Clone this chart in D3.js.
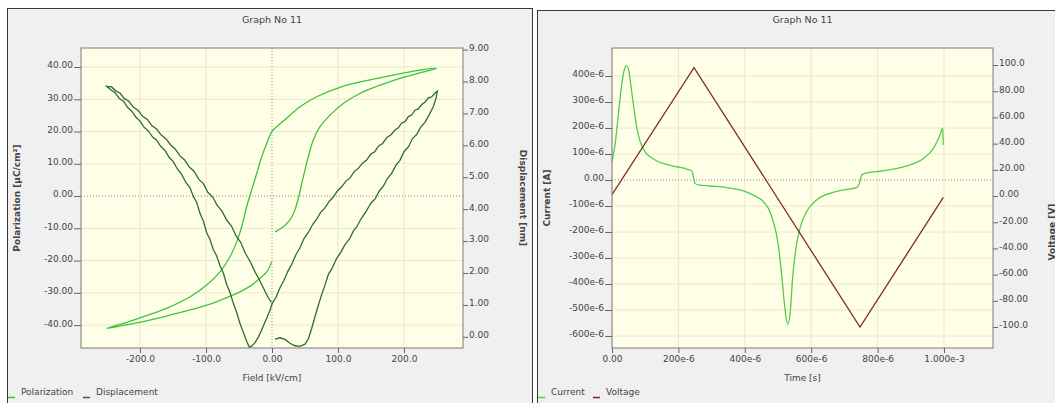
<!DOCTYPE html>
<html>
<head>
<meta charset="utf-8">
<script src="https://cdn.jsdelivr.net/npm/d3@7"></script>
<style>
  body { margin: 0; background: #fff; }
  svg text { font-family: "DejaVu Sans", sans-serif; fill: #444; }
</style>
</head>
<body>
<div id="chart"></div>
<script>
// ---- left graph: hysteresis loop + butterfly ----
let fieldTicks = [-200, -100, 0, 100, 200];
let fieldLabels = ["-200.0", "-100.0", "0.00", "100.0", "200.0"];
let polTicks = [40, 30, 20, 10, 0, -10, -20, -30, -40];
let polLabels = ["40.00", "30.00", "20.00", "10.00", "0.00", "-10.00", "-20.00", "-30.00", "-40.00"];
let dispTicks = [9, 8, 7, 6, 5, 4, 3, 2, 1, 0];
let dispLabels = ["9.00", "8.00", "7.00", "6.00", "5.00", "4.00", "3.00", "2.00", "1.00", "0.00"];

// [field kV/cm, polarization uC/cm2]
let polarization = [
  [4.5,-11.1],[17.2,-9.5],[27.3,-7.4],[34.8,-4.3],[39.9,-0.7],[45,3.9],[50,8.1],[55,12.2],[62.6,17.4],
  [72.7,21.5],[87.9,25.1],[108,28.7],[133,31.8],[164,34.4],[194,36.5],[224,38.2],[249.5,39.6],
  [219,38.9],[184,37.5],[143,35.8],[103,33.7],[67.7,30.8],[42.4,27.7],[22.2,24.1],[7.1,21.5],[-0.5,19.9],
  [-8,16.3],[-15.6,12.2],[-23.2,7.0],[-30.8,1.9],[-38.4,-3.3],[-45.9,-9.5],[-53.5,-14.2],[-63.6,-18.8],
  [-78.8,-23.5],[-99,-27.6],[-124,-31.2],[-160,-34.8],[-195,-37.4],[-225,-39.5],[-250,-41],
  [-225,-40.1],[-195,-38.9],[-160,-37.2],[-124,-35.3],[-94,-33.5],[-68.7,-31.5],[-48.5,-29.7],
  [-30.8,-27.6],[-18.2,-25.5],[-8,-23.5],[-0.5,-20.4]
];

// [field kV/cm, displacement nm]
let displacement = [
  [4.5,-0.07],[12.1,-0.03],[19.7,-0.08],[27.3,-0.20],[34.9,-0.28],[42.4,-0.30],[50.0,-0.23],[55.0,-0.07],
  [60.1,0.26],[65.1,0.63],[70.2,0.99],[75.3,1.33],[80.3,1.62],[85.3,1.95],[91.4,2.16],[98.0,2.46],
  [104.0,2.64],[110.6,2.89],[117.2,3.06],[123.2,3.31],[129.3,3.48],[135.9,3.73],[142.4,3.92],[149.5,4.18],
  [156.1,4.32],[162.6,4.57],[168.7,4.72],[174.7,4.96],[181.3,5.12],[187.9,5.38],[193.9,5.53],[200.0,5.80],
  [206.6,5.95],[213.1,6.22],[219.2,6.34],[225.3,6.57],[231.8,6.72],[238.4,6.97],[244.4,7.21],[248.5,7.47],
  [250.5,7.70],
  [247.0,7.64],[241.9,7.52],[236.9,7.49],[231.8,7.35],[226.8,7.28],[221.7,7.14],[216.7,7.10],[211.6,6.95],
  [206.6,6.90],[201.5,6.74],[196.5,6.70],[191.4,6.55],[186.4,6.48],[179.8,6.32],[173.7,6.24],[167.7,6.06],
  [161.6,5.98],[155.6,5.80],[149.5,5.72],[143.4,5.54],[137.4,5.45],[130.8,5.28],[124.2,5.17],[118.2,4.98],
  [112.1,4.88],[105.6,4.70],[99.0,4.57],[92.9,4.38],[86.9,4.25],[80.3,4.04],[73.7,3.90],[67.7,3.69],
  [61.6,3.52],[55.0,3.27],[48.5,3.08],[42.4,2.79],[36.4,2.58],[30.3,2.29],[24.2,2.06],[18.2,1.77],
  [12.1,1.54],[6.1,1.24],[0.5,1.05],
  [-3.0,0.84],[-7.1,0.63],[-11.6,0.42],[-16.2,0.19],[-20.7,-0.01],[-25.8,-0.18],[-30.8,-0.29],[-34.4,-0.32],
  [-38.4,-0.14],[-43.4,0.14],[-48.5,0.42],[-53.5,0.76],[-58.6,1.05],[-63.6,1.39],[-68.7,1.64],[-73.7,2.00],
  [-78.8,2.23],[-83.9,2.54],[-88.9,2.73],[-93.9,3.05],[-99.0,3.26],[-104.0,3.63],[-109.1,3.87],[-114.1,4.21],
  [-119.2,4.40],[-124.2,4.67],[-130.3,4.83],[-136.9,5.09],[-143.4,5.26],[-149.5,5.49],[-155.5,5.61],
  [-162.1,5.84],[-168.7,5.97],[-174.8,6.16],[-180.8,6.26],[-187.4,6.45],[-194.0,6.57],[-200.0,6.76],
  [-206.1,6.88],[-212.6,7.07],[-219.2,7.20],[-225.3,7.39],[-231.3,7.47],[-237.9,7.65],[-244.4,7.74],
  [-250.5,7.85],
  [-242.9,7.83],[-236.4,7.70],[-230.3,7.64],[-224.2,7.47],[-217.2,7.39],[-210.1,7.20],[-203.0,7.10],
  [-196.0,6.91],[-188.9,6.81],[-181.8,6.61],[-174.8,6.51],[-167.7,6.32],[-160.6,6.20],[-153.5,6.01],
  [-146.5,5.88],[-139.4,5.67],[-132.3,5.54],[-125.3,5.32],[-118.2,5.19],[-111.1,4.94],[-104.0,4.80],
  [-97.0,4.52],[-89.9,4.38],[-82.8,4.11],[-75.8,3.94],[-68.7,3.66],[-61.6,3.48],[-54.5,3.17],[-47.5,2.96],
  [-40.4,2.62],[-33.3,2.37],[-26.3,2.06],[-19.2,1.79],[-12.1,1.49],[-6.1,1.24],[-1.0,1.08]
];

// ---- right graph: current + voltage vs time ----
let timeTicks = [0, 200, 400, 600, 800, 1000];          // microseconds
let timeLabels = ["0.00", "200e-6", "400e-6", "600e-6", "800e-6", "1.000e-3"];
let currentTicks = [400, 300, 200, 100, 0, -100, -200, -300, -400, -500, -600];   // microamps
let currentLabels = ["400e-6", "300e-6", "200e-6", "100e-6", "0.00", "-100e-6", "-200e-6", "-300e-6", "-400e-6", "-500e-6", "-600e-6"];
let voltTicks = [100, 80, 60, 40, 20, 0, -20, -40, -60, -80, -100];
let voltLabels = ["100.0", "80.00", "60.00", "40.00", "20.00", "0.00", "-20.00", "-40.00", "-60.00", "-80.00", "-100.0"];

// [time us, current uA]
let current = [
  [0,70],[9,135],[19,250],[29,365],[37,423],[44,440],[51,417],[58,353],[66,276],[75,199],[85,147],[99,109],
  [114,90],[135,73],[165,60],[195,51],[225,42],[240,35],[245,13],[250,-13],[260,-19],[295,-23],[345,-29],
  [396,-42],[426,-58],[451,-77],[471,-109],[486,-160],[501,-250],[511,-365],[521,-494],[529,-555],[536,-519],
  [544,-378],[554,-263],[566,-186],[586,-122],[616,-77],[657,-51],[697,-38],[737,-29],[745,-13],[752,19],
  [762,26],[797,32],[847,42],[898,58],[938,83],[968,122],[988,173],[996,199],[998,135]
];
// [time us, voltage V]
let voltage = [[0,1],[247,98],[747,-100],[998,-1]];

let svg = d3.select("#chart").append("svg")
    .attr("width", 1055)
    .attr("height", 403)
    .style("display", "block");

function drawGraph(c) {
    let g = svg.append("g");
    let p = c.plot;

    g.append("rect")
        .attr("x", c.panel.x).attr("y", c.panel.y)
        .attr("width", c.panel.w).attr("height", c.panel.h)
        .attr("fill", "#f0f0f0").attr("stroke", "#3a3a3a");

    g.append("text")
        .attr("x", (p.left + p.right) / 2).attr("y", 23)
        .attr("text-anchor", "middle").style("font-size", "9.5px")
        .text("Graph No 11");

    let x = d3.scaleLinear().domain(c.xDomain).range([p.left, p.right]);
    let yL = d3.scaleLinear().domain(c.yLDomain).range([p.bottom, p.top]);
    let yR = d3.scaleLinear().domain(c.yRDomain).range([p.bottom, p.top]);

    g.append("rect")
        .attr("x", p.left).attr("y", p.top)
        .attr("width", p.right - p.left).attr("height", p.bottom - p.top)
        .attr("fill", "#ffffe8");

    // grid
    g.selectAll(".vgrid").data(c.xTicks.filter(d => d !== 0 || !c.xZero)).enter()
        .append("line")
        .attr("x1", d => x(d)).attr("x2", d => x(d))
        .attr("y1", p.top).attr("y2", p.bottom)
        .attr("stroke", "#e9e8cc");
    g.selectAll(".hgrid").data(c.yLTicks.filter(d => d !== 0)).enter()
        .append("line")
        .attr("x1", p.left).attr("x2", p.right)
        .attr("y1", d => yL(d)).attr("y2", d => yL(d))
        .attr("stroke", "#e9e8cc");

    // zero lines
    g.append("line")
        .attr("x1", p.left).attr("x2", p.right)
        .attr("y1", yL(0)).attr("y2", yL(0))
        .attr("stroke", "#888").attr("stroke-dasharray", "1,2");
    if (c.xZero) {
        g.append("line")
            .attr("x1", x(0)).attr("x2", x(0))
            .attr("y1", p.top).attr("y2", p.bottom)
            .attr("stroke", "#888").attr("stroke-dasharray", "1,2");
    }

    // series
    let clipId = "clip" + c.id;
    svg.append("clipPath").attr("id", clipId)
      .append("rect")
        .attr("x", p.left).attr("y", p.top)
        .attr("width", p.right - p.left).attr("height", p.bottom - p.top);

    c.series.forEach(s => {
        let y = s.axis === "left" ? yL : yR;
        let line = d3.line()
            .x(d => x(d[0]))
            .y(d => y(d[1]))
            .curve(s.curve);
        g.append("path")
            .datum(s.data)
            .attr("clip-path", "url(#" + clipId + ")")
            .attr("d", line)
            .attr("fill", "none")
            .attr("stroke", s.color)
            .attr("stroke-width", 1.3);
    });

    g.append("rect")
        .attr("x", p.left).attr("y", p.top)
        .attr("width", p.right - p.left).attr("height", p.bottom - p.top)
        .attr("fill", "none").attr("stroke", "#7a7a7a");

    // axes
    let xAxis = d3.axisBottom(x).tickValues(c.xTicks)
        .tickFormat((d, i) => c.xLabels[i]).tickSize(5).tickSizeOuter(0).tickPadding(3);
    let leftAxis = d3.axisLeft(yL).tickValues(c.yLTicks)
        .tickFormat((d, i) => c.yLLabels[i]).tickSize(7).tickSizeOuter(0).tickPadding(1);
    let rightAxis = d3.axisRight(yR).tickValues(c.yRTicks)
        .tickFormat((d, i) => c.yRLabels[i]).tickSize(5).tickSizeOuter(0).tickPadding(1);

    [[xAxis, "translate(0," + p.bottom + ")"],
     [leftAxis, "translate(" + p.left + ",0)"],
     [rightAxis, "translate(" + p.right + ",0)"]].forEach(a => {
        let ag = g.append("g").attr("transform", a[1]).call(a[0]);
        ag.select(".domain").remove();
        ag.selectAll("line").attr("stroke", "#666");
        ag.selectAll("text").style("font-size", "9px").style("font-family", "DejaVu Sans").attr("fill", "#555");
    });
    g.selectAll("g.tick text").filter(function() { return this.getAttribute("dy") === "0.32em"; })
        .attr("dy", "0.1em");

    // axis titles
    g.append("text")
        .attr("x", (p.left + p.right) / 2).attr("y", 381)
        .attr("text-anchor", "middle").style("font-size", "9px")
        .text(c.xTitle);
    g.append("text")
        .attr("transform", "translate(" + c.yLTitleX + "," + (p.top + p.bottom) / 2 + ") rotate(-90)")
        .attr("text-anchor", "middle").style("font-size", "9px").style("font-weight", "bold")
        .attr("fill", "#333")
        .text(c.yLTitle);
    g.append("text")
        .attr("transform", "translate(" + c.yRTitleX + "," + c.yRTitleY + ") rotate(" + c.yRTitleRot + ")")
        .attr("text-anchor", "middle").style("font-size", "9px").style("font-weight", "bold")
        .attr("fill", "#333")
        .text(c.yRTitle);

    // legend
    c.series.forEach(s => {
        g.append("line")
            .attr("x1", s.legendX).attr("x2", s.legendX + 7)
            .attr("y1", 397.5).attr("y2", 397.5)
            .attr("stroke", s.color).attr("stroke-width", 1.5);
        g.append("text")
            .attr("x", s.legendX + 13).attr("y", 395)
            .style("font-size", "9px").attr("fill", "#333")
            .text(s.name);
    });
}

drawGraph({
    id: "L",
    panel: {x: 7.5, y: 8.5, w: 525, h: 400},
    plot: {left: 81, right: 463, top: 48, bottom: 348},
    xDomain: [-289.4, 289.4],
    yLDomain: [-47.1, 45.9],
    yRDomain: [-0.35, 9.05],
    xTicks: fieldTicks, xLabels: fieldLabels, xZero: true,
    yLTicks: polTicks, yLLabels: polLabels,
    yRTicks: dispTicks, yRLabels: dispLabels,
    xTitle: "Field [kV/cm]",
    yLTitle: "Polarization [µC/cm²]", yLTitleX: 20,
    yRTitle: "Displacement [nm]", yRTitleX: 520, yRTitleY: 198, yRTitleRot: 90,
    series: [
        {name: "Polarization", data: polarization, axis: "left", color: "#3cc43c", curve: d3.curveCatmullRom, legendX: 8},
        {name: "Displacement", data: displacement, axis: "right", color: "#2f6b2f", curve: d3.curveLinear, legendX: 83}
    ]
});

drawGraph({
    id: "R",
    panel: {x: 537.5, y: 10.5, w: 530, h: 400},
    plot: {left: 612, right: 993, top: 48, bottom: 348},
    xDomain: [0, 1147.6],
    yLDomain: [-646, 507.7],
    yRDomain: [-116, 113],
    xTicks: timeTicks, xLabels: timeLabels, xZero: false,
    yLTicks: currentTicks, yLLabels: currentLabels,
    yRTicks: voltTicks, yRLabels: voltLabels,
    xTitle: "Time [s]",
    yLTitle: "Current [A]", yLTitleX: 550,
    yRTitle: "Voltage [V]", yRTitleX: 1055, yRTitleY: 232, yRTitleRot: -90,
    series: [
        {name: "Current", data: current, axis: "left", color: "#52cc4a", curve: d3.curveMonotoneX, legendX: 538},
        {name: "Voltage", data: voltage, axis: "right", color: "#7e2b28", curve: d3.curveLinear, legendX: 593}
    ]
});
</script>
</body>
</html>
